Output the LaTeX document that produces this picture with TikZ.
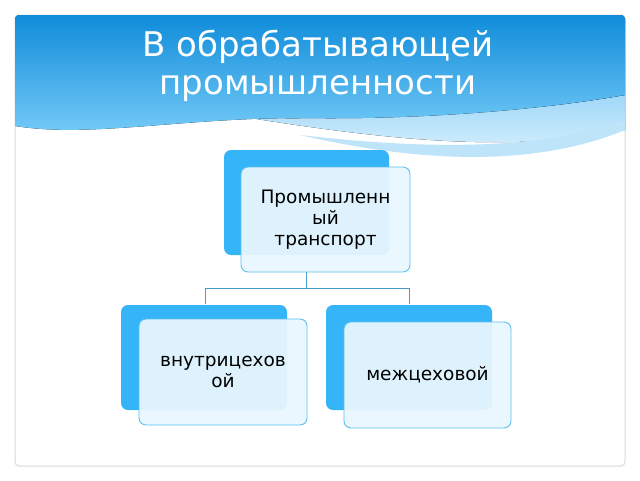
\documentclass[tikz,border=0pt]{standalone}
\usepackage{fontspec}
\setmainfont{DejaVu Sans}
\begin{document}
\begin{tikzpicture}[x=1pt,y=-1pt,
  back/.style={fill=bk,rounded corners=7pt},
  front/.style={draw=bd,line width=0.9pt,fill=fr,fill opacity=0.93,text opacity=1,rounded corners=7pt},
  lbl/.style={font=\fontsize{18.5}{21}\selectfont,align=center,text width=160pt},
  conn/.style={draw=cn,line width=0.9pt}]
\definecolor{bk}{HTML}{36B4F8}
\definecolor{bd}{HTML}{5CC0EE}
\definecolor{fr}{HTML}{EAF7FE}
\definecolor{cn}{HTML}{4A9CC8}
\definecolor{w1}{RGB}{160,215,248}
\definecolor{w2}{RGB}{210,238,252}
\definecolor{w3}{RGB}{190,228,250}
\definecolor{h1}{RGB}{16,140,218}
\definecolor{h2}{RGB}{120,205,248}
\useasboundingbox (0,0) rectangle (640,480);
\fill[white] (0,0) rectangle (640,480);
\draw[rounded corners=4pt,draw=black!15,line width=1pt,fill=white] (15,15) rectangle (625,466);
\begin{scope}
\clip[rounded corners=4pt] (15,15) rectangle (625,466);
\fill[top color=w1,bottom color=w2]
  (250,118) .. controls (420,120) and (540,110) .. (625,95) -- (625,130) .. controls (520,150) and (420,145) .. (250,118) -- cycle;
\fill[w3] (300,135) .. controls (430,150) and (540,150) .. (625,120) -- (625,130) .. controls (540,165) and (430,165) .. (300,135) -- cycle;
\fill[top color=h1,bottom color=h2]
  (15,15) -- (625,15) -- (625,95) .. controls (540,110) and (420,120) .. (300,118) .. controls (180,118) and (90,138) .. (15,126) -- cycle;
\end{scope}
\node[text=white,font=\fontsize{34}{38}\selectfont,align=center] (title) at (318,66) {В обрабатывающей\\промышленности};
% top
\fill[back] (224,150) rectangle (389,255);
\node[front,lbl,minimum width=169pt,minimum height=105pt] (top) at (325.5,219.5) {Промышленн\\ый\\транспорт};
% left
\fill[back] (121,305) rectangle (287,410);
\node[front,lbl,minimum width=168pt,minimum height=106pt] (l) at (223,372) {внутрицехов\\ой};
% right
\fill[back] (326,305) rectangle (492,410);
\node[front,lbl,minimum width=167pt,minimum height=106pt] (r) at (427.5,375) {межцеховой};
\coordinate (j) at (306,288);
\coordinate (jl) at (205,288);
\coordinate (jr) at (409,288);
\draw[conn] (306,272) -- (j);
\draw[conn] (jl) -- (jr);
\draw[conn] (jl) -- (205,304);
\draw[conn] (jr) -- (409,304);
\end{tikzpicture}
\end{document}
